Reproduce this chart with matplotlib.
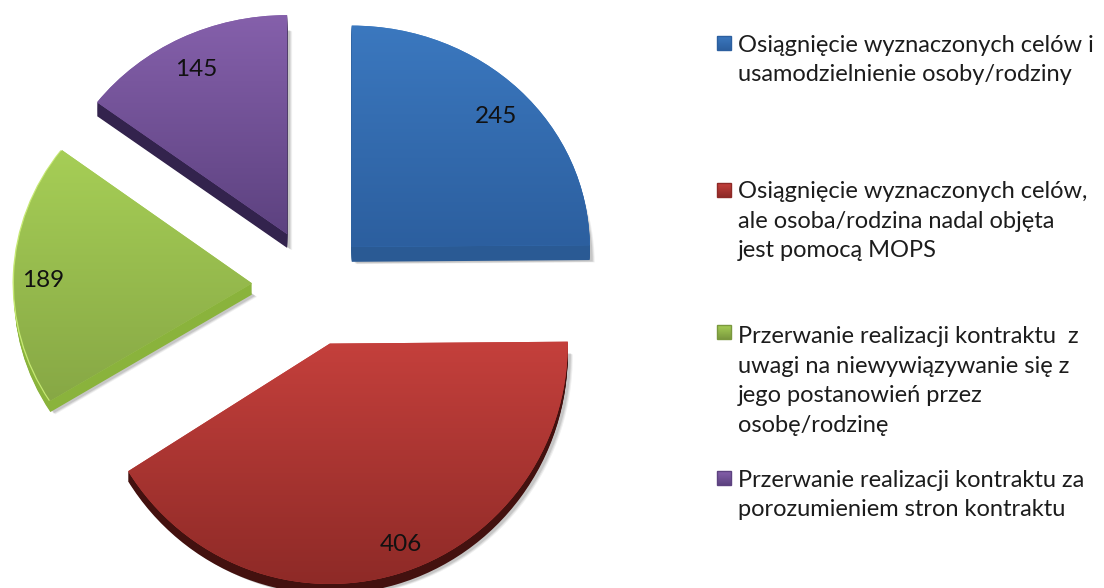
import numpy as np
import matplotlib
matplotlib.use("Agg")
import matplotlib.pyplot as plt
from matplotlib.patches import Wedge, Rectangle
from matplotlib.transforms import Affine2D
from matplotlib.colors import LinearSegmentedColormap

# data
wartosci = [245, 406, 189, 145]
opisy = [
    "Osiągnięcie wyznaczonych celów i\nusamodzielnienie osoby/rodziny",
    "Osiągnięcie wyznaczonych celów,\nale osoba/rodzina nadal objęta\njest pomocą MOPS",
    "Przerwanie realizacji kontraktu  z\nuwagi na niewywiązywanie się z\njego postanowień przez\nosobę/rodzinę",
    "Przerwanie realizacji kontraktu za\nporozumieniem stron kontraktu",
]

# style of each slice
kolory_gora = ["#3b78bf", "#c5403c", "#a6ce56", "#8560ab"]
kolory_dol = ["#2c5f9f", "#8e2a27", "#7a983e", "#5d4280"]
kolory_bok = ["#2a5a94", "#43110f", "#8ab33c", "#33234d"]
wysuniecie = [55, 60, 61, 58]
glebokosc = [16, 10, 12, 15]
skala_y = [0.93, 1.01, 0.93, 0.92]
tekst_dx = [-1, 13, -3, 1]
tekst_dy = [-6, -1, -5, -5]
opis_y = [60, 221, 381, 495]
znacznik_y = [43, 190, 332, 478]

W, H = 1104, 588
fig = plt.figure(figsize=(W / 100, H / 100), dpi=100)
ax = fig.add_axes([0, 0, 1, 1])

razem = sum(wartosci)
wedges, teksty, procenty = ax.pie(
    wartosci, explode=wysuniecie, center=(313, H - 286), radius=238,
    colors=kolory_gora, startangle=90, counterclock=False, pctdistance=0.866,
    autopct=lambda p: f"{p * razem / 100:.0f}",
    textprops={"fontsize": 17.5, "family": "Lato", "color": "#111111"},
)

for i, w in enumerate(wedges):
    cx, cy = w.center
    tr = Affine2D().translate(-cx, -cy).scale(1, skala_y[i]).translate(cx, cy) + ax.transData
    w.set_transform(tr)
    w.set_zorder(3 + i * 0.1)
    w.set_edgecolor("none")

    # soft shadow under the slice
    for d, a in [(5, 0.06), (4, 0.08), (3, 0.1)]:
        s = Wedge((cx + d, cy - glebokosc[i] - d / 2), w.r, w.theta1, w.theta2,
                  fc="black", ec="none", alpha=a, transform=tr, zorder=1)
        ax.add_patch(s)

    # side of the slice, drawn as shifted copies
    for d in range(1, glebokosc[i] + 1):
        b = Wedge((cx, cy - d), w.r, w.theta1, w.theta2,
                  fc=kolory_bok[i], ec="none", transform=tr, zorder=2)
        ax.add_patch(b)

    # light rim on the green slice
    if i == 2:
        ax.add_patch(Wedge((cx - 1.5, cy), w.r, w.theta1, w.theta2,
                           fc="#c6e874", ec="none", transform=tr, zorder=2.5))

    # top surface gradient
    cmap = LinearSegmentedColormap.from_list("g", [kolory_gora[i], kolory_dol[i]])
    y0 = cy - w.r * skala_y[i]
    y1 = cy + w.r * skala_y[i]
    if i == 0 or i == 3:
        y0 = cy
    if i == 1:
        y1 = cy + 4
    if i == 2:
        y1 = cy + w.r * skala_y[i] * 0.6
    im = ax.imshow(np.linspace(0, 1, 256).reshape(-1, 1), cmap=cmap, aspect="auto",
                   extent=(cx - w.r, cx + w.r, y0, y1), origin="upper", zorder=3.5 + i * 0.1)
    im.set_clip_path(w)

    # move the number together with the slice
    tx, ty = procenty[i].get_position()
    procenty[i].set_position((tx + tekst_dx[i], cy + (ty - cy) * skala_y[i] + tekst_dy[i]))
    procenty[i].set_zorder(6)

# legend
for i, opis in enumerate(opisy):
    ax.text(738, H - opis_y[i], opis, fontsize=17.0, family="Lato", color="#1c1c1c",
            va="center", ha="left", linespacing=1.5)
    cmap = LinearSegmentedColormap.from_list("g", [kolory_gora[i], kolory_dol[i]])
    yz = H - znacznik_y[i]
    im = ax.imshow(np.linspace(0, 1, 32).reshape(-1, 1), cmap=cmap, aspect="auto",
                   extent=(717, 731, yz - 7, yz + 7), origin="upper", zorder=4)
    ax.add_patch(Rectangle((717, yz - 7), 14, 14, fc="none", ec=kolory_dol[i], lw=1, zorder=5))

ax.set_aspect("auto")
ax.set_xlim(0, W)
ax.set_ylim(0, H)
ax.axis("off")

fig.savefig("out.png", dpi=100)
